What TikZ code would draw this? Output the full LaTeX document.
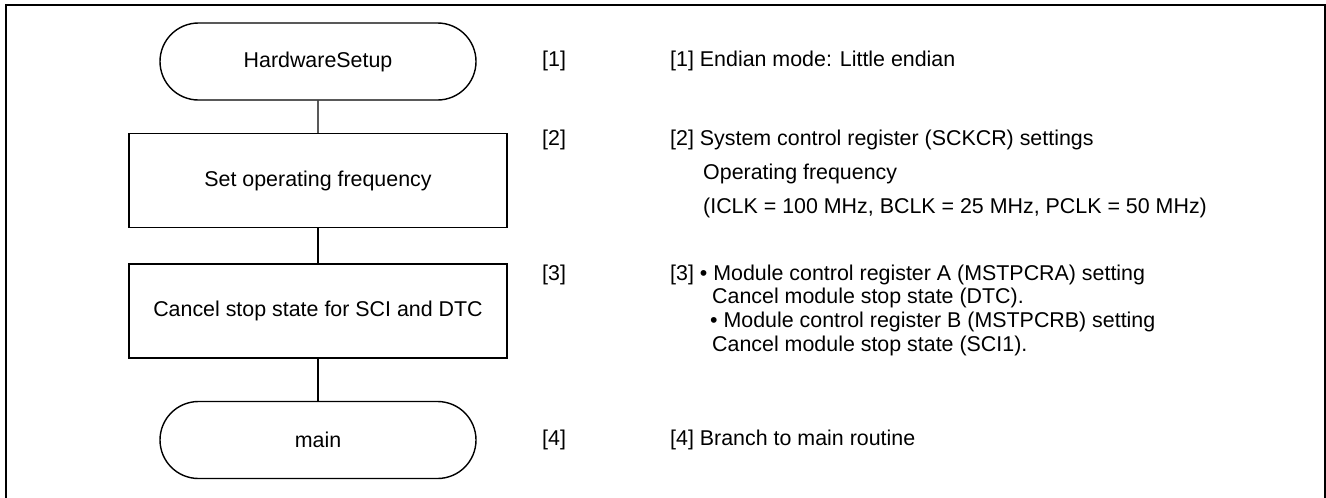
\documentclass[tikz,border=0pt]{standalone}
\usepackage{fontspec}
\setmainfont{Liberation Sans}
\usetikzlibrary{shapes.misc,positioning}

\newcommand{\flowfont}{\fontsize{21.4}{23.7}\selectfont}
\newcommand{\widefont}{\fontsize{21.4}{34}\selectfont}

\tikzset{
  term/.style={draw, line width=1.4pt, rounded rectangle, minimum width=316pt, minimum height=77pt, inner sep=0pt, font=\flowfont},
  proc/.style={draw, line width=1.4pt, rectangle, minimum width=378pt, minimum height=94pt, inner sep=0pt, font=\flowfont},
  note/.style={anchor=north west, inner sep=0pt, align=left, font=\flowfont},
  link/.style={line width=1.4pt}
}

\begin{document}
\begin{tikzpicture}[x=1pt,y=1pt]
  \useasboundingbox (0,0) rectangle (1326,-498);
  % frame, open at the bottom
  \draw[line width=2pt] (6,-498) |- (1325,-5) -- (1325,-498);
  % flow chart
  \node[term] (setup) at (318,-61.5) {HardwareSetup};
  \node[proc] (freq) at (318,-180.5) {Set operating frequency};
  \node[proc] (cancel) at (318,-311) {Cancel stop state for SCI and DTC};
  \node[term] (mainr) at (318,-440) {main};
  \draw[link] (setup) -- (freq);
  \draw[link] (freq) -- (cancel);
  \draw[link] (cancel) -- (mainr);
  % step marks
  \node[note] (m1) at (542,-51) {[1]};
  \node[note] (m2) at (542,-129.5) {[2]};
  \node[note] (m3) at (542,-264.5) {[3]};
  \node[note] (m4) at (542,-430) {[4]};
  % notes
  \node[note] (n1) at (670,-51) {[1] Endian mode: Little endian};
  \node[note, font=\widefont] (n2) at (670,-129.5) {[2] System control register (SCKCR) settings\\
    \hspace*{33pt}Operating frequency\\
    \hspace*{33pt}(ICLK = 100 MHz, BCLK = 25 MHz, PCLK = 50 MHz)};
  \node[note] (n3) at (670,-264.5) {[3] \textbullet{} Module control register A (MSTPCRA) setting\\
    \hspace*{42pt}Cancel module stop state (DTC).\\
    \hspace*{40pt}\textbullet{} Module control register B (MSTPCRB) setting\\
    \hspace*{42pt}Cancel module stop state (SCI1).};
  \node[note] (n4) at (670,-430) {[4] Branch to main routine};
\end{tikzpicture}
\end{document}
